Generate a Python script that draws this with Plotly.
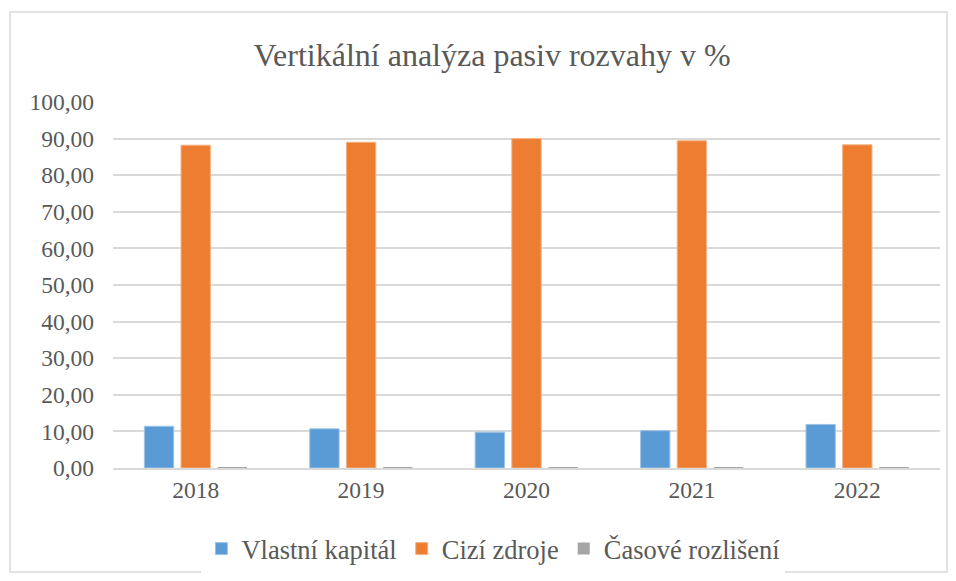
import plotly.graph_objects as go

# ── Data ────────────────────────────────────────────────────────────────────
years = ["2018", "2019", "2020", "2021", "2022"]
vlastni_kapital = [11.4, 10.7, 9.8, 10.2, 11.9]
cizi_zdroje = [88.2, 89.0, 90.0, 89.4, 88.3]
casove_rozliseni = [0.02, 0.02, 0.01, 0.02, 0.01]

FONT = "Liberation Serif"
GREY_TEXT = "#595959"

fig = go.Figure()
fig.add_trace(go.Bar(name="Vlastní kapitál", x=years, y=vlastni_kapital,
                     marker=dict(color="#5b9bd5", line=dict(color="#9dc3e6", width=1))))
fig.add_trace(go.Bar(name="Cizí zdroje", x=years, y=cizi_zdroje,
                     marker=dict(color="#ed7d31", line=dict(color="#f4b183", width=1))))
fig.add_trace(go.Bar(name="Časové rozlišení", x=years, y=casove_rozliseni,
                     marker=dict(color="#a5a5a5", line=dict(width=0))))

# page body has an 8px margin, so the figure is sized to fit inside it
fig.update_layout(
    width=940,
    height=565,
    title=dict(text="Vertikální analýza pasiv rozvahy v %", x=0.515, xanchor="center",
               y=0.917, yanchor="middle",
               font=dict(family=FONT, size=32, color=GREY_TEXT)),
    barmode="group",
    bargap=0.335,
    bargroupgap=0.2,
    separators=", ",
    plot_bgcolor="white",
    paper_bgcolor="white",
    font=dict(family=FONT, size=23, color=GREY_TEXT),
    margin=dict(l=105, r=8, t=94, b=105, autoexpand=False),
    legend=dict(orientation="h", x=0.46, xanchor="center", y=-0.221, yanchor="middle",
                font=dict(family="Times New Roman", size=26.5, color=GREY_TEXT),
                itemwidth=30, traceorder="normal"),
    xaxis=dict(showgrid=False, showline=True, linecolor="#d9d9d9", linewidth=1.5,
               ticks="", tickfont=dict(family=FONT, size=23.5, color=GREY_TEXT)),
    yaxis=dict(range=[0, 100], dtick=10, tickformat=".2f", showgrid=True,
               gridcolor="#d9d9d9", gridwidth=1.5, zeroline=False, showline=False,
               ticks="", ticklabelstandoff=18,
               tickfont=dict(family=FONT, size=23.5, color=GREY_TEXT)),
    shapes=[dict(type="rect", xref="paper", yref="paper",
                 x0=-0.1245, x1=1.0085, y0=-0.284, y1=1.246,
                 line=dict(color="#d9d9d9", width=1.5), fillcolor="rgba(0,0,0,0)",
                 layer="below")],
)

fig.write_html("out.html")
